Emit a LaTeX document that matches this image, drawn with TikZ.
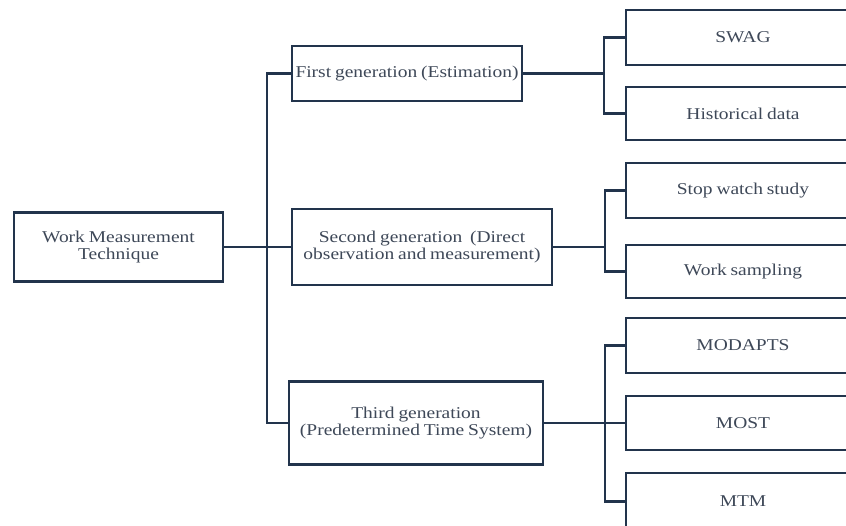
\documentclass[tikz,border=0pt]{standalone}
\usepackage{fontspec}
\setmainfont{Liberation Serif}[FakeStretch=1.18,WordSpace={0.8,0.5,0.3}]
\definecolor{linec}{HTML}{22344C}
\definecolor{textc}{HTML}{3E4858}
\tikzset{
  box/.style={draw=linec, line width=2.2pt, fill=white, rectangle, inner sep=0pt,
    align=center, text=textc, font=\fontsize{16.5}{16.5}\selectfont},
  conn/.style={draw=linec, line width=2.2pt},
}
\begin{document}
\begin{tikzpicture}[x=1pt,y=-1pt]
\path[use as bounding box, clip] (0,0) rectangle (846,525);
\fill[white] (0,0) rectangle (846,525);
% level 0
\node[box, minimum width=209pt, minimum height=69pt] (root) at (118.5,247) {Work Measurement\\Technique};
% level 1
\node[box, minimum width=230pt, minimum height=55pt] (first) at (407,73.5) {First generation (Estimation)};
\node[box, minimum width=260pt, minimum height=76pt] (second) at (422,247) {Second generation~ (Direct\\observation and measurement)};
\node[box, minimum width=254pt, minimum height=83pt] (third) at (416,423) {Third generation\\(Predetermined Time System)};
% level 2
\node[box, minimum width=234pt, minimum height=55pt] (swag) at (743,37.5) {SWAG};
\node[box, minimum width=234pt, minimum height=53pt] (hist) at (743,113.5) {Historical data};
\node[box, minimum width=234pt, minimum height=55pt] (stop) at (743,190.5) {Stop watch study};
\node[box, minimum width=234pt, minimum height=53pt] (samp) at (743,271.5) {Work sampling};
\node[box, minimum width=234pt, minimum height=55pt] (modapts) at (743,345.5) {MODAPTS};
\node[box, minimum width=234pt, minimum height=54pt] (most) at (743,423) {MOST};
\node[box, minimum width=234pt, minimum height=57pt] (mtm) at (743,501.5) {MTM};
% junctions
\coordinate (j0) at (267,247);
\coordinate (j1) at (604,73.5);
\coordinate (j2) at (605,247);
\coordinate (j3) at (605,423);
% connectors
\draw[conn] (root.east) -- (second.west);
\draw[conn] (first.west) -| (j0) |- (third.west);
\draw[conn] (first.east) -- (j1);
\draw[conn] (swag.west) -| (j1) |- (hist.west);
\draw[conn] (second.east) -- (j2);
\draw[conn] (stop.west) -| (j2) |- (samp.west);
\draw[conn] (third.east) -- (j3) -- (most.west);
\draw[conn] (modapts.west) -| (j3) |- (mtm.west);
\end{tikzpicture}
\end{document}
